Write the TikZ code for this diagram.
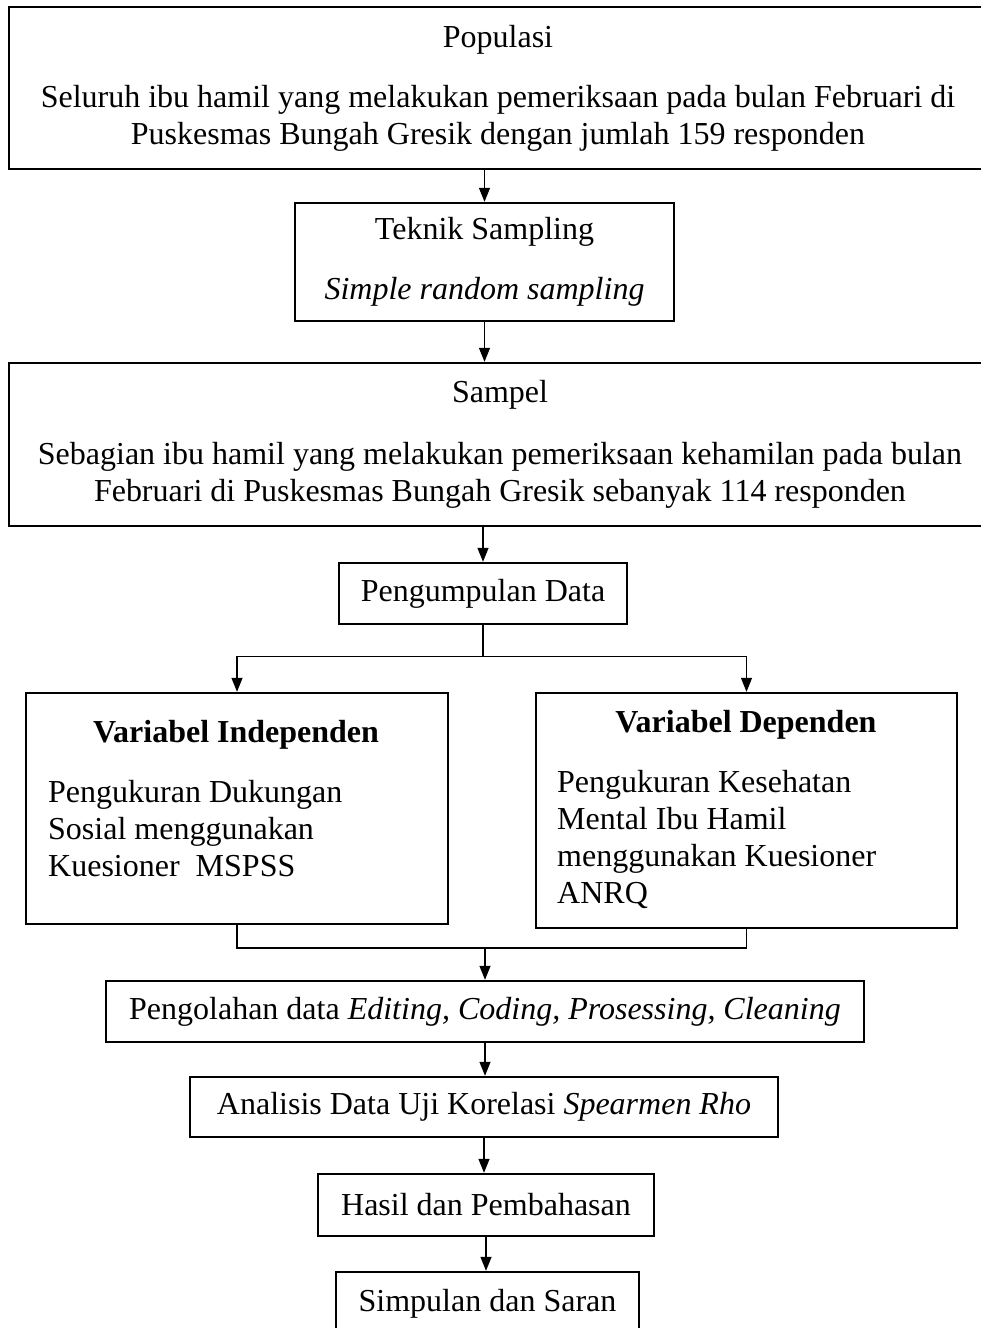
\documentclass[tikz,border=0pt]{standalone}
\usepackage{fontspec}
\setmainfont{Liberation Serif}
\usetikzlibrary{arrows.meta}
\begin{document}
\begin{tikzpicture}[x=1pt,y=-1pt,
  box/.style={draw, line width=2.4pt, inner sep=0pt, align=center, font=\fontsize{32}{37}\selectfont},
  txt/.style={inner sep=0pt, font=\fontsize{32}{37}\selectfont},
  conn/.style={line width=1.3pt},
  arr/.style={line width=1.3pt, -{Triangle[length=14pt,width=11pt]}}]
\useasboundingbox (0,0) rectangle (981,1328);
\fill[white] (0,0) rectangle (981,1328);
\node[box, minimum width=978pt, minimum height=162pt] (pop) at (498,88)
  {Populasi\\[23pt]Seluruh ibu hamil yang melakukan pemeriksaan pada bulan Februari di\\Puskesmas Bungah Gresik dengan jumlah 159 responden};
\node[box, minimum width=379pt, minimum height=118pt] (tek) at (484.5,262)
  {Teknik Sampling\\[23pt]\textit{Simple random sampling}};
\node[box, minimum width=982pt, minimum height=163pt] (samp) at (500,444.5)
  {Sampel\\[25pt]Sebagian ibu hamil yang melakukan pemeriksaan kehamilan pada bulan\\Februari di Puskesmas Bungah Gresik sebanyak 114 responden};
\node[box, minimum width=288pt, minimum height=61pt] (peng) at (483,593.5) {Pengumpulan Data};
\node[box, minimum width=422pt, minimum height=231pt] (ind) at (237,808.5) {};
\node[box, minimum width=421pt, minimum height=235pt] (dep) at (746.5,810.5) {};
\node[txt, font=\fontsize{32}{37}\selectfont\bfseries] (indt) at (236,735) {Variabel Independen};
\node[txt, anchor=north west, align=left] (indb) at (48,780) {Pengukuran Dukungan\\Sosial menggunakan\\Kuesioner\ \ MSPSS};
\node[txt, font=\fontsize{32}{37}\selectfont\bfseries] (dept) at (746,725) {Variabel Dependen};
\node[txt, anchor=north west, align=left] (depb) at (557,770) {Pengukuran Kesehatan\\Mental Ibu Hamil\\menggunakan Kuesioner\\ANRQ};
\node[box, minimum width=758pt, minimum height=61pt] (pol) at (485,1011.5)
  {Pengolahan data \textit{Editing, Coding, Prosessing, Cleaning}};
\node[box, minimum width=588pt, minimum height=60pt] (ana) at (484,1107)
  {Analisis Data Uji Korelasi \textit{Spearmen Rho}};
\node[box, minimum width=336pt, minimum height=62pt] (has) at (486,1205) {Hasil dan Pembahasan};
\node[box, minimum width=303pt, minimum height=63pt] (sim) at (487.5,1303.5) {Simpulan dan Saran};
% connectors
\draw[arr] (tek.north |- pop.south) -- (tek.north);
\draw[arr] (tek.south) -- (tek.south |- samp.north);
\draw[arr] (peng.north |- samp.south) -- (peng.north);
\draw[conn] (peng.south) -- ++(0,31) coordinate (split);
\draw[conn] (split -| ind.north) -- (split -| dep.north);
\draw[arr] (split -| ind.north) -- (ind.north);
\draw[arr] (split -| dep.north) -- (dep.north);
\coordinate (merge) at (0,948);
\draw[conn] (ind.south) -- (merge -| ind.south) -- (merge -| dep.south) -- (dep.south);
\draw[arr] (merge -| pol.north) -- (pol.north);
\draw[arr] (pol.south) -- (pol.south |- ana.north);
\draw[arr] (ana.south) -- (ana.south |- has.north);
\draw[arr] (has.south) -- (has.south |- sim.north);
\end{tikzpicture}
\end{document}
